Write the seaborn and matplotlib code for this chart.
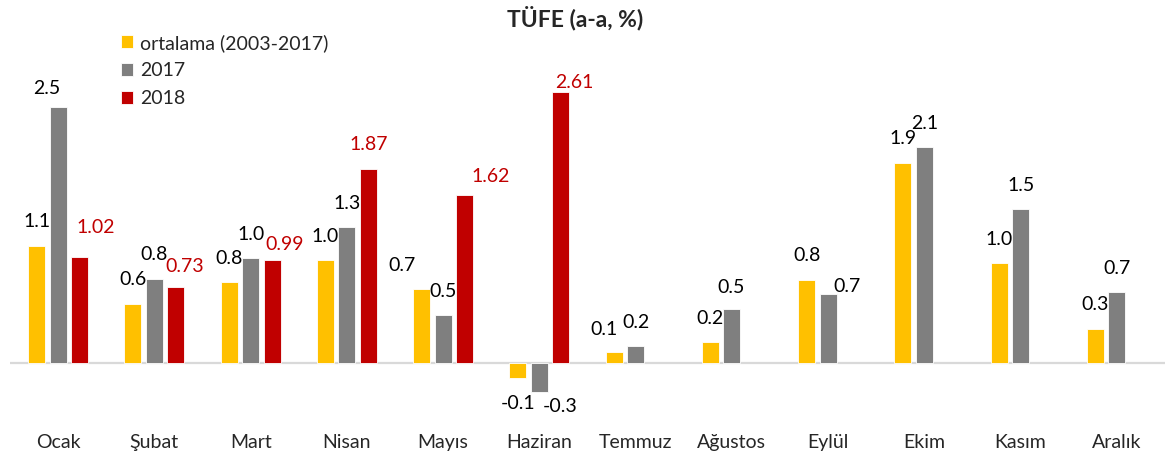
import numpy as np
import pandas as pd
import seaborn as sns
import matplotlib.pyplot as plt

# Aylar ve seriler
aylar = ['Ocak', 'Şubat', 'Mart', 'Nisan', 'Mayıs', 'Haziran', 'Temmuz',
         'Ağustos', 'Eylül', 'Ekim', 'Kasım', 'Aralık']
ortalama = [1.13, 0.57, 0.78, 0.99, 0.71, -0.14, 0.11, 0.20, 0.80, 1.93, 0.96, 0.33]
y2017 = [2.47, 0.81, 1.01, 1.31, 0.46, -0.28, 0.16, 0.52, 0.66, 2.08, 1.48, 0.68]
y2018 = [1.02, 0.73, 0.99, 1.87, 1.62, 2.61, np.nan, np.nan, np.nan, np.nan, np.nan, np.nan]
seriler = ['ortalama (2003-2017)', '2017', '2018']
renkler = ['#FFC000', '#7F7F7F', '#C00000']
etiket_bicim = ['{:.1f}', '{:.1f}', '{:.2f}']

df = pd.DataFrame({
    'Ay': aylar * 3,
    'Seri': [seriler[0]] * 12 + [seriler[1]] * 12 + [seriler[2]] * 12,
    'Deger': ortalama + y2017 + y2018,
})

sns.set_style('white')
plt.rcParams['font.family'] = ['Lato', 'DejaVu Sans']

fig = plt.figure(figsize=(11.71, 4.59), dpi=100)
ax = fig.add_axes([10 / 1171, 0.0734, 1155 / 1171, 0.8595])

sns.barplot(data=df, x='Ay', y='Deger', hue='Seri', order=aylar, hue_order=seriler,
            palette=renkler, width=0.67, gap=0.2, edgecolor='white', linewidth=0.6,
            saturation=1, ax=ax, legend=True)

ax.axhline(0, color='#D9D9D9', lw=1.6, zorder=0)
ax.set_ylim(-0.6, 3.2)
ax.set_xlim(-0.5, 11.5)
ax.set_yticks([])
ax.set_xlabel('')
ax.set_ylabel('')
for s in ax.spines.values():
    s.set_visible(False)
ax.tick_params(axis='x', length=0, pad=6.5, labelsize=14)

# Etiket kaydırmaları (piksel): (seri, ay) -> (dx, dy)
kaydir = {
    (0, 4): (-20, 0), (0, 6): (-10, -2),
    (1, 0): (-11, -6), (1, 5): (21, 0), (1, 8): (19, -16), (1, 7): (-1, -2),
    (2, 0): (16, 6), (2, 1): (9, -3), (2, 2): (13, -8), (2, 4): (26, -6), (2, 5): (13, -14),
}

for si, cont in enumerate(ax.containers):
    for bar in cont:
        h = bar.get_height()
        if np.isnan(h):
            continue
        xc = bar.get_x() + bar.get_width() / 2
        mi = int(round(xc))
        dx, dy = kaydir.get((si, mi), (0, 0))
        if h >= 0:
            oy = 24 + dy
        else:
            oy = -26 + dy
            if si == 1:
                oy = -14
        ax.annotate(etiket_bicim[si].format(h), xy=(xc, h), xytext=(dx, oy),
                    textcoords='offset pixels', ha='center', va='center',
                    fontsize=14, color='#C00000' if si == 2 else 'black')

leg = ax.legend(loc='upper left', bbox_to_anchor=(113 / 1171, 1 - 26 / 459),
                bbox_transform=fig.transFigure, frameon=False, fontsize=14,
                handlelength=0.65, handleheight=0.65, handletextpad=0.35,
                labelspacing=0.55, borderaxespad=0)

fig.text(575 / 1171, 1 - 18 / 459, 'TÜFE (a-a, %)', ha='center', va='center',
         fontsize=16.5, fontweight='bold')

plt.savefig('out.png', dpi=100)
